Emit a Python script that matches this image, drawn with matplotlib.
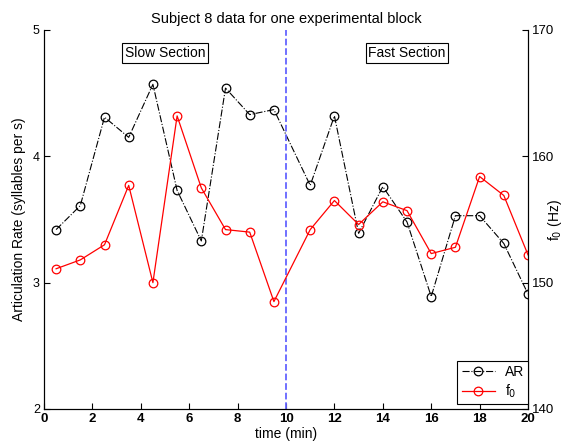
"""
Articulation rate and f0 over one experimental block (two y axes).
"""
import matplotlib
matplotlib.use("Agg")
import matplotlib.pyplot as plt

plt.rcParams['font.family'] = ['Liberation Sans', 'DejaVu Sans']

# time points (min)
time_slow = [0.5, 1.5, 2.5, 3.5, 4.5, 5.5, 6.5, 7.5, 8.5, 9.5]
time_fast = [11, 12, 13, 14, 15, 16, 17, 18, 19, 20]

# articulation rate (syllables per s)
ar_values = [3.42, 3.61, 4.31, 4.15, 4.57, 3.73, 3.33, 4.54, 4.33, 4.37,
             3.77, 4.32, 3.39, 3.76, 3.48, 2.89, 3.53, 3.53, 3.31, 2.91]

# fundamental frequency (Hz)
f0_values = [151.1, 151.8, 153.0, 157.7, 150.0, 163.2, 157.5, 154.2, 154.0, 148.5,
             154.2, 156.5, 154.6, 156.4, 155.7, 152.3, 152.8, 158.4, 156.9, 152.2]

left_ticks = [2, 3, 4, 5]
right_ticks = [140, 150, 160, 170]
x_ticks = [0, 2, 4, 6, 8, 10, 12, 14, 16, 18, 20]
boundary = 10


def make_plot():
    times = time_slow + time_fast

    fig = plt.figure(figsize=(5.73, 4.41), dpi=100)
    ax = fig.add_axes([0.0768, 0.0726, 0.8447, 0.8594])
    ax2 = ax.twinx()

    l1, = ax.plot(times, ar_values, color='black', linestyle='-.', linewidth=0.8,
                  marker='o', markersize=6.2, markerfacecolor='none',
                  markeredgewidth=0.9, label='AR')
    l2, = ax2.plot(times, f0_values, color='red', linestyle='-', linewidth=0.9,
                   marker='o', markersize=6.2, markerfacecolor='none',
                   markeredgewidth=0.9, label='f$_0$')

    ax.axvline(boundary, color='#6464ff', linestyle='--', linewidth=1.3)

    ax.set_xlim(0, 20)
    ax.set_ylim(2, 5)
    ax2.set_ylim(140, 170)
    ax.set_xticks(x_ticks)
    ax.set_yticks(left_ticks)
    ax2.set_yticks(right_ticks)

    for a in (ax, ax2):
        a.spines['top'].set_visible(False)
        a.tick_params(direction='in', length=4, width=0.8, labelsize=9.5, pad=3)
    ax.tick_params(axis='y', labelsize=9)
    ax.tick_params(axis='x', pad=3)
    ax.set_xticklabels([str(t) for t in x_ticks], fontweight='bold')

    ax.set_xlabel('time (min)', fontsize=10, labelpad=1)
    ax.set_ylabel('Articulation Rate (syllables per s)', fontsize=10, labelpad=5)
    fig.text(555 / 573, 0.5, 'f$_0$ (Hz)', rotation=90, ha='center', va='center',
             fontsize=10)
    ax.set_title('Subject 8 data for one experimental block', fontsize=10.5, pad=5)

    box = dict(facecolor='white', edgecolor='black', linewidth=0.8, pad=2)
    ax.text(0.25, 0.94, 'Slow Section', transform=ax.transAxes, ha='center',
            va='center', fontsize=10, bbox=box)
    ax.text(0.75, 0.94, 'Fast Section', transform=ax.transAxes, ha='center',
            va='center', fontsize=10, bbox=box)

    leg = ax2.legend([l1, l2], ['AR', 'f$_0$'], loc='lower right',
                     bbox_to_anchor=(1.0, 0.013), fontsize=10, fancybox=False,
                     framealpha=1, borderaxespad=0, handlelength=2.4,
                     labelspacing=0.25, borderpad=0.3, handletextpad=0.7)
    leg.get_frame().set_edgecolor('black')
    leg.get_frame().set_linewidth(0.8)

    fig.savefig('out.png', dpi=100)


if __name__ == "__main__":
    make_plot()
